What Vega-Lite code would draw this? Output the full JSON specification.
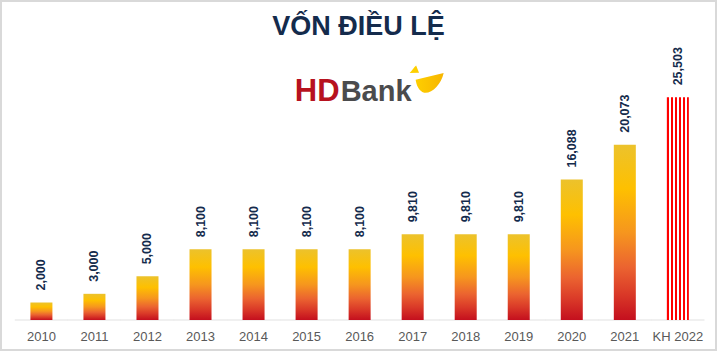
{
  "$schema": "https://vega.github.io/schema/vega-lite/v6.json",
  "autosize": {"type": "none"},
  "width": 715,
  "height": 349,
  "padding": {"left": 1, "top": 1, "right": 3, "bottom": 5},
  "background": "white",
  "config": {
    "view": {"stroke": "#d9d9d9", "strokeWidth": 2},
    "font": "Liberation Sans"
  },
  "title": {
    "text": "VỐN ĐIỀU LỆ",
    "font": "Liberation Sans",
    "fontSize": 27,
    "fontWeight": "bold",
    "color": "#142b4c",
    "anchor": "middle",
    "baseline": "alphabetic",
    "offset": -28,
    "dy": 33
  },
  "data": {
    "values": [
      {"year": "2010", "value": 2000, "kind": "actual"},
      {"year": "2011", "value": 3000, "kind": "actual"},
      {"year": "2012", "value": 5000, "kind": "actual"},
      {"year": "2013", "value": 8100, "kind": "actual"},
      {"year": "2014", "value": 8100, "kind": "actual"},
      {"year": "2015", "value": 8100, "kind": "actual"},
      {"year": "2016", "value": 8100, "kind": "actual"},
      {"year": "2017", "value": 9810, "kind": "actual"},
      {"year": "2018", "value": 9810, "kind": "actual"},
      {"year": "2019", "value": 9810, "kind": "actual"},
      {"year": "2020", "value": 16088, "kind": "actual"},
      {"year": "2021", "value": 20073, "kind": "actual"},
      {"year": "KH 2022", "value": 25503, "kind": "plan"}
    ]
  },
  "encoding": {
    "x": {
      "field": "year",
      "type": "nominal",
      "sort": null,
      "scale": {"paddingInner": 0.585, "paddingOuter": 0.533, "align": 0.52},
      "axis": {
        "title": null,
        "labelAngle": 0,
        "ticks": false,
        "domain": false,
        "labelColor": "#595959",
        "labelFont": "Liberation Sans",
        "labelFontSize": 13,
        "labelPadding": 10,
        "offset": -30
      }
    }
  },
  "layer": [
    {
      "mark": {"type": "tick", "color": "#d4d4d4", "thickness": 1, "size": 53.2, "orient": "horizontal"},
      "encoding": {
        "y": {
          "datum": 0,
          "type": "quantitative",
          "scale": {"domain": [-3436, 36541], "nice": false, "zero": false},
          "axis": null
        }
      }
    },
    {
      "transform": [{"filter": "datum.kind === 'actual'"}],
      "mark": {
        "type": "bar",
        "color": {
          "gradient": "linear",
          "x1": 0, "y1": 0, "x2": 0, "y2": 1,
          "stops": [
            {"offset": 0, "color": "#ecc22c"},
            {"offset": 0.25, "color": "#fec000"},
            {"offset": 0.5, "color": "#f6961e"},
            {"offset": 0.7, "color": "#eb6330"},
            {"offset": 0.85, "color": "#da3a28"},
            {"offset": 1, "color": "#c40f1e"}
          ]
        }
      },
      "encoding": {
        "y": {"field": "value", "type": "quantitative"},
        "y2": {"datum": 0}
      }
    },
    {
      "transform": [{"filter": "datum.kind === 'plan'"}],
      "mark": {
        "type": "bar",
        "color": {
          "gradient": "linear",
          "x1": 0, "y1": 0, "x2": 1, "y2": 0,
          "stops": [
            {"offset": 0, "color": "#ff0000"},
            {"offset": 0.082, "color": "#ff0000"},
            {"offset": 0.082, "color": "#ffffff"},
            {"offset": 0.184, "color": "#ffffff"},
            {"offset": 0.184, "color": "#ff0000"},
            {"offset": 0.266, "color": "#ff0000"},
            {"offset": 0.266, "color": "#ffffff"},
            {"offset": 0.368, "color": "#ffffff"},
            {"offset": 0.368, "color": "#ff0000"},
            {"offset": 0.45, "color": "#ff0000"},
            {"offset": 0.45, "color": "#ffffff"},
            {"offset": 0.552, "color": "#ffffff"},
            {"offset": 0.552, "color": "#ff0000"},
            {"offset": 0.634, "color": "#ff0000"},
            {"offset": 0.634, "color": "#ffffff"},
            {"offset": 0.736, "color": "#ffffff"},
            {"offset": 0.736, "color": "#ff0000"},
            {"offset": 0.818, "color": "#ff0000"},
            {"offset": 0.818, "color": "#ffffff"},
            {"offset": 0.918, "color": "#ffffff"},
            {"offset": 0.918, "color": "#ff0000"},
            {"offset": 1, "color": "#ff0000"}
          ]
        }
      },
      "encoding": {
        "y": {"field": "value", "type": "quantitative"},
        "y2": {"datum": 0}
      }
    },
    {
      "mark": {
        "type": "text",
        "angle": 270,
        "align": "left",
        "baseline": "middle",
        "font": "Liberation Sans",
        "fontSize": 12.5,
        "fontWeight": "bold",
        "color": "#142b4c",
        "yOffset": -12
      },
      "encoding": {
        "y": {"field": "value", "type": "quantitative"},
        "text": {"field": "value", "type": "quantitative", "format": ","}
      }
    },
    {
      "transform": [{"filter": "datum.year === '2016'"}],
      "mark": {
        "type": "text",
        "text": "HD",
        "align": "right",
        "baseline": "alphabetic",
        "font": "Liberation Sans",
        "fontSize": 31,
        "fontWeight": "bold",
        "color": "#b7121f",
        "dx": -20
      },
      "encoding": {
        "y": {"datum": 25100, "type": "quantitative"}
      }
    },
    {
      "transform": [{"filter": "datum.year === '2016'"}],
      "mark": {
        "type": "text",
        "text": "Bank",
        "align": "left",
        "baseline": "alphabetic",
        "font": "Liberation Sans",
        "fontSize": 29,
        "fontWeight": "bold",
        "color": "#4b4b4d",
        "dx": -19
      },
      "encoding": {
        "y": {"datum": 25100, "type": "quantitative"}
      }
    },
    {
      "transform": [{"filter": "datum.year === '2017'"}],
      "mark": {
        "type": "point",
        "filled": true,
        "opacity": 1,
        "size": 1156,
        "strokeWidth": 0,
        "xOffset": 14,
        "shape": "M -1,-0.38 C -0.85,-0.55 -0.75,-0.7 -0.62,-0.82 L -0.45,-0.4 Z M -0.65,0.02 L 1,-0.38 C 0.85,0.3 0.3,0.85 -0.15,0.78 C -0.45,0.7 -0.6,0.35 -0.65,0.02 Z",
        "fill": {
          "gradient": "linear",
          "x1": 0, "y1": 0, "x2": 1, "y2": 0,
          "stops": [
            {"offset": 0, "color": "#ffd400"},
            {"offset": 1, "color": "#f7b500"}
          ]
        }
      },
      "encoding": {
        "y": {"datum": 27550, "type": "quantitative"}
      }
    }
  ]
}
